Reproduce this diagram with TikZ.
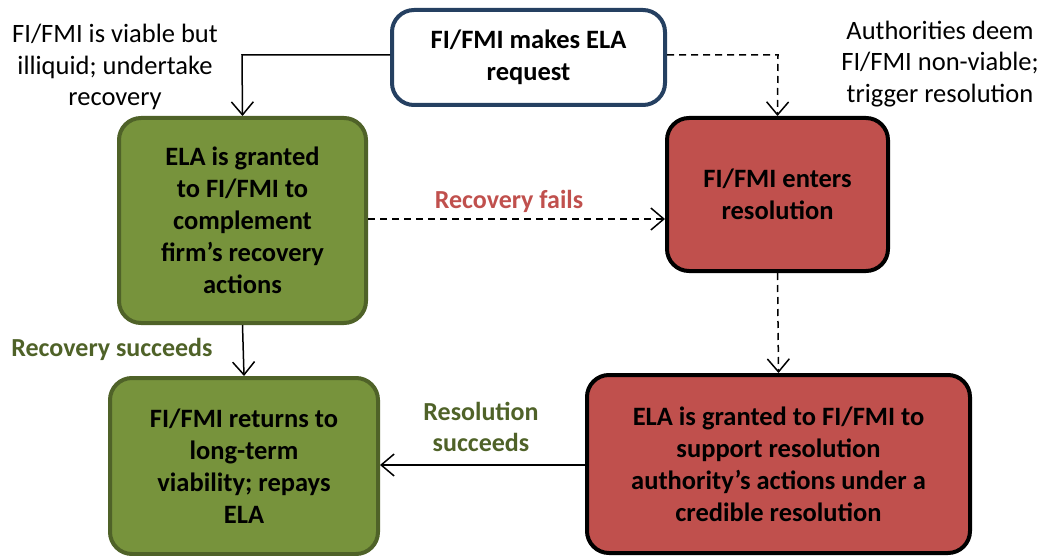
\documentclass[tikz,border=0pt]{standalone}
\usepackage{fontspec}
\setmainfont{Carlito}
\usetikzlibrary{arrows.meta}
\definecolor{gfill}{HTML}{77933C}
\definecolor{gline}{HTML}{4F6228}
\definecolor{rfill}{HTML}{C0504D}
\definecolor{bline}{HTML}{254061}
\begin{document}
\begin{tikzpicture}[x=1pt,y=-1pt,
  box/.style={rounded corners=22pt,line width=4pt,align=center,font=\fontsize{26.5}{32}\selectfont\bfseries,inner sep=0pt},
  gbox/.style={box,draw=gline,fill=gfill},
  rbox/.style={box,draw=black,fill=rfill},
  bbox/.style={box,draw=bline,fill=white},
  note/.style={align=center,font=\fontsize{26.5}{31.5}\selectfont},
  lab/.style={align=center,font=\fontsize{26}{31}\selectfont\bfseries},
  conn/.style={line width=1.5pt,-{Straight Barb[length=13pt,width=22pt,line width=1.5pt]}},
  dconn/.style={conn,dash pattern=on 7pt off 5pt}]
\useasboundingbox (0,0) rectangle (1044,556);
\node[bbox,minimum width=273pt,minimum height=95pt] (req) at (528.5,57.5) {FI/FMI makes ELA\\request};
\node[gbox,minimum width=247pt,minimum height=205pt] (g1) at (242.5,220.5) {ELA is granted\\to FI/FMI to\\complement\\firm’s recovery\\actions};
\node[rbox,minimum width=221pt,minimum height=153pt] (r1) at (777.5,194.5) {FI/FMI enters\\resolution};
\node[gbox,minimum width=268pt,minimum height=176pt] (g2) at (244,466) {FI/FMI returns to\\long-term\\viability; repays\\ELA};
\node[rbox,minimum width=383pt,minimum height=178pt] (r2) at (778.5,464) {ELA is granted to FI/FMI to\\support resolution\\authority’s actions under a\\credible resolution};
\node[note] (n1) at (115,67) {FI/FMI is viable but\\illiquid; undertake\\recovery};
\node[note] (n2) at (940,64) {Authorities deem\\FI/FMI non-viable;\\trigger resolution};
\coordinate (c1) at (242,55);
\coordinate (c2) at (778,55);
\draw[conn] (req.west |- c1) -- (c1) -- (g1.north);
\draw[dconn] (req.east |- c2) -- (c2) -- (r1.north);
\draw[dconn] (g1.east |- 0,219) -- (r1.west |- 0,219);
\node[lab,text=rfill] (lf) at (509,201) {Recovery fails};
\draw[conn] (g1.south) -- (g2.north);
\node[lab,text=gline] (ls) at (112,349) {Recovery succeeds};
\draw[dconn] (r1.south) -- (r2.north);
\draw[conn] (r2.west |- 0,465) -- (g2.east |- 0,465);
\node[lab,text=gline] (lr) at (481,427) {Resolution\\succeeds};
\end{tikzpicture}
\end{document}
